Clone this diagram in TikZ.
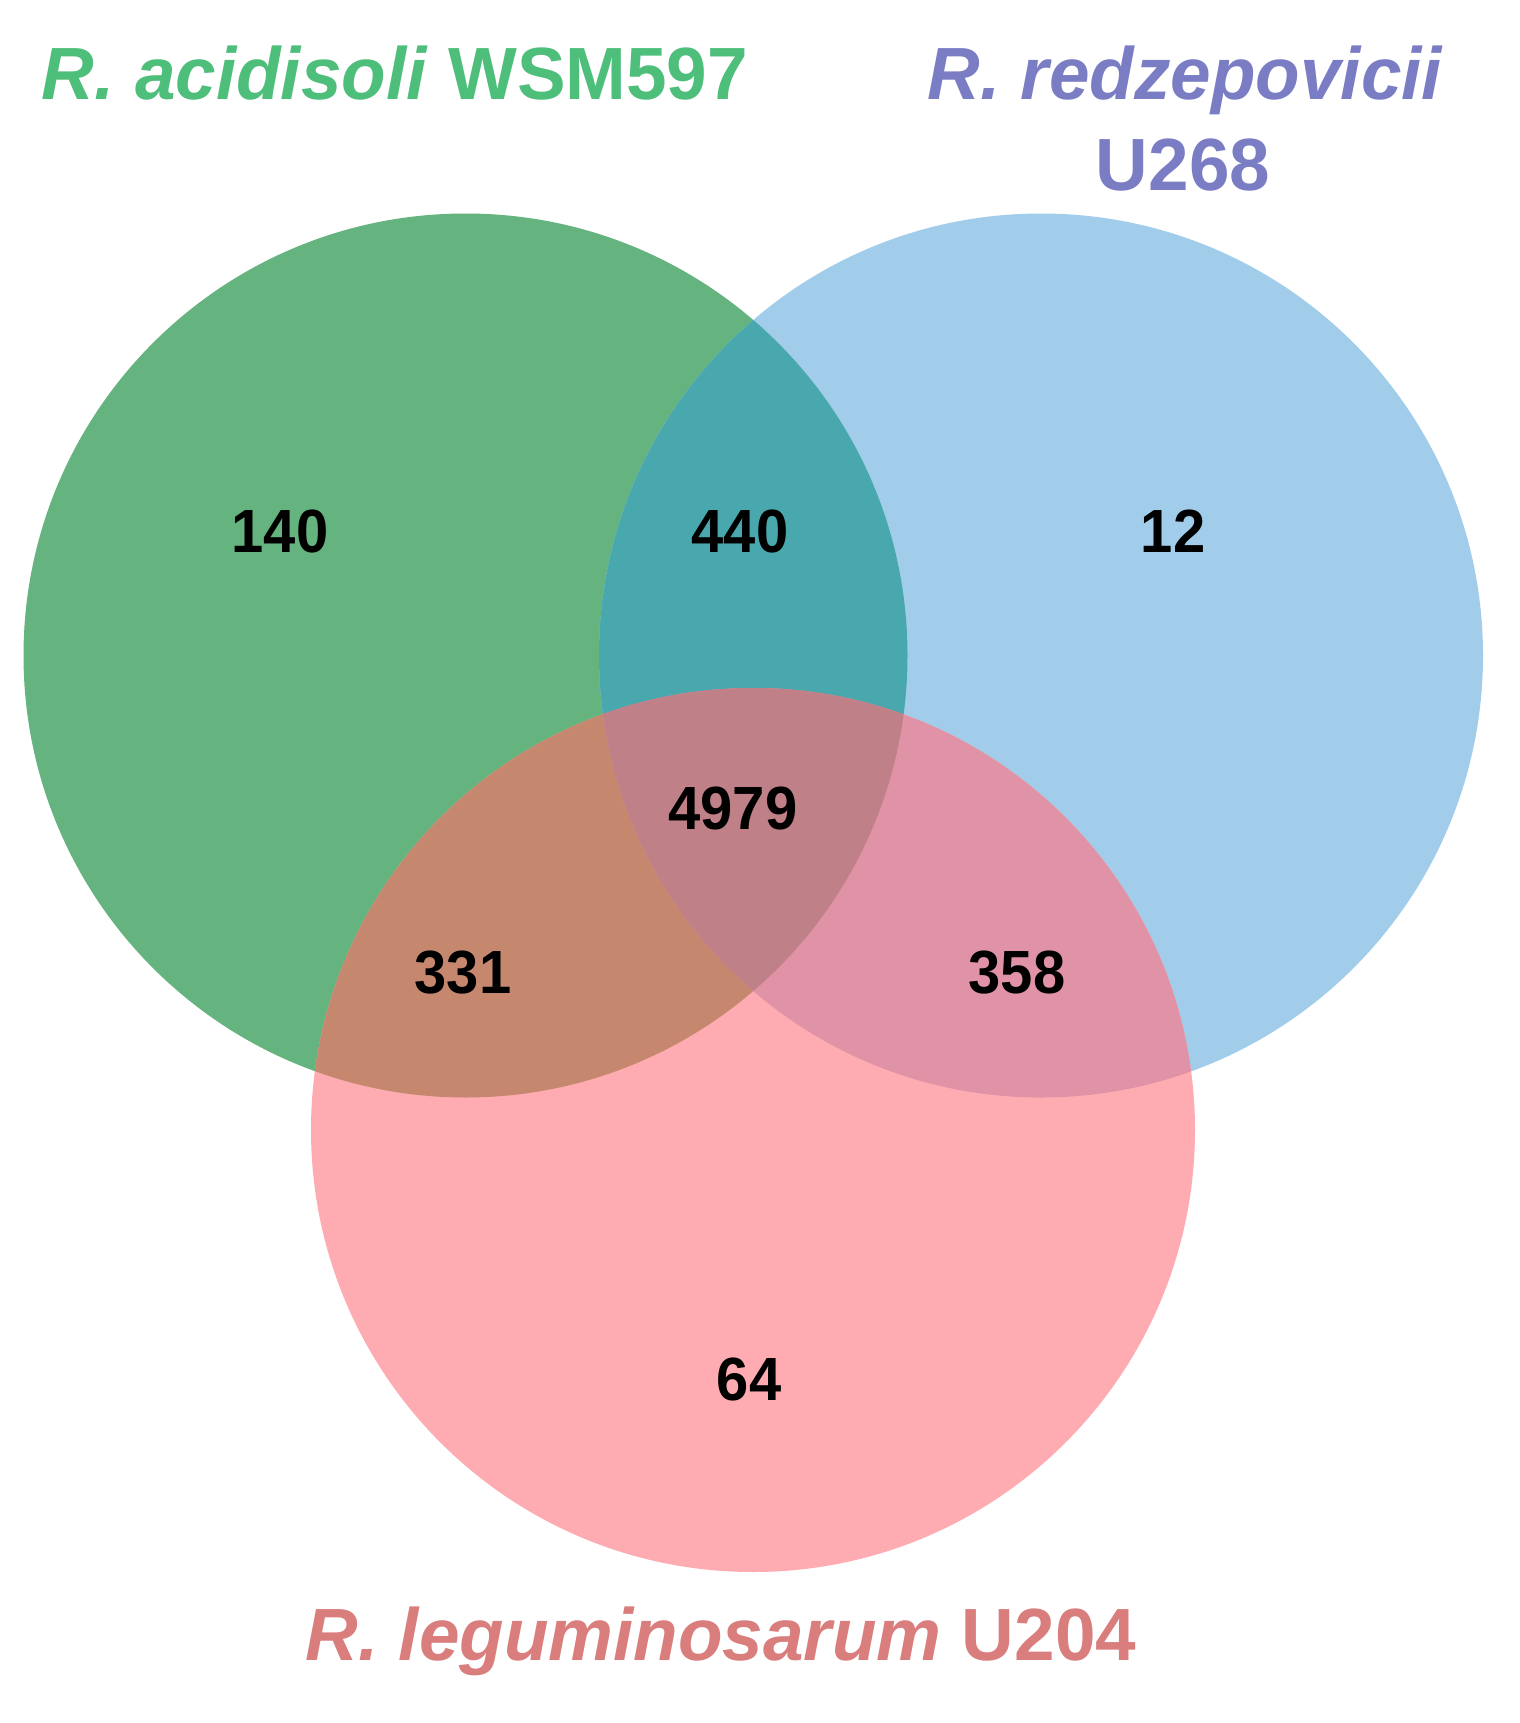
\documentclass[tikz,border=0pt]{standalone}
\usepackage{fontspec}
\usepackage{graphicx}
\setmainfont{Liberation Sans}
\definecolor{cgreen}{HTML}{65B37E}
\definecolor{cblue}{HTML}{A2CDEA}
\definecolor{cpink}{HTML}{FEACB1}
\definecolor{cgb}{HTML}{48A8AD}
\definecolor{cgp}{HTML}{C6876F}
\definecolor{cbp}{HTML}{E093A6}
\definecolor{cgbp}{HTML}{C08087}
\definecolor{tgreen}{HTML}{4EBE7B}
\definecolor{tblue}{HTML}{7B7DC4}
\definecolor{tpink}{HTML}{D97D7D}
\newcommand{\cnt}[1]{\scalebox{0.95}[1]{#1}}
\newcommand{\ttl}[1]{\scalebox{0.985}[1]{#1}}
\tikzset{
  count/.style={inner sep=0pt, font=\fontsize{61}{72}\selectfont\bfseries, text=black},
  title/.style={inner sep=0pt, anchor=base, font=\fontsize{74}{88}\selectfont\bfseries}
}
\begin{document}
\begin{tikzpicture}[x=1pt,y=-1pt]
\path[use as bounding box, fill=white] (0,0) rectangle (1519,1723);
\coordinate (A) at (465.5,655.5);
\coordinate (B) at (1041,655.5);
\coordinate (C) at (753,1130);
\def\rr{442pt}
% single sets
\fill[cgreen] (A) circle (\rr);
\fill[cblue] (B) circle (\rr);
\fill[cpink] (C) circle (\rr);
% pairwise
\begin{scope}\clip (A) circle (\rr); \fill[cgb] (B) circle (\rr); \end{scope}
\begin{scope}\clip (A) circle (\rr); \fill[cgp] (C) circle (\rr); \end{scope}
\begin{scope}\clip (B) circle (\rr); \fill[cbp] (C) circle (\rr); \end{scope}
% triple
\begin{scope}\clip (A) circle (\rr); \clip (B) circle (\rr); \fill[cgbp] (C) circle (\rr); \end{scope}
% counts
\node[count] (n140) at (280,531) {\cnt{140}};
\node[count] (n440) at (740,531) {\cnt{440}};
\node[count] (n12) at (1173,531) {\cnt{12}};
\node[count] (n4979) at (733,808) {\cnt{4979}};
\node[count] (n331) at (463,973) {\cnt{331}};
\node[count] (n358) at (1017,973) {\cnt{358}};
\node[count] (n64) at (749,1379) {\cnt{64}};
% titles
\node[title, text=tgreen] (tA) at (395,100) {\ttl{\itshape R. acidisoli\/ \upshape WSM597}};
\node[title, text=tblue] (tB1) at (1185,100) {\ttl{\itshape R. redzepovicii}};
\node[title, text=tblue] (tB2) at (1183,190) {\ttl{U268}};
\node[title, text=tpink] (tC) at (721,1660) {\ttl{\itshape R. leguminosarum\/ \upshape U204}};
\end{tikzpicture}
\end{document}
